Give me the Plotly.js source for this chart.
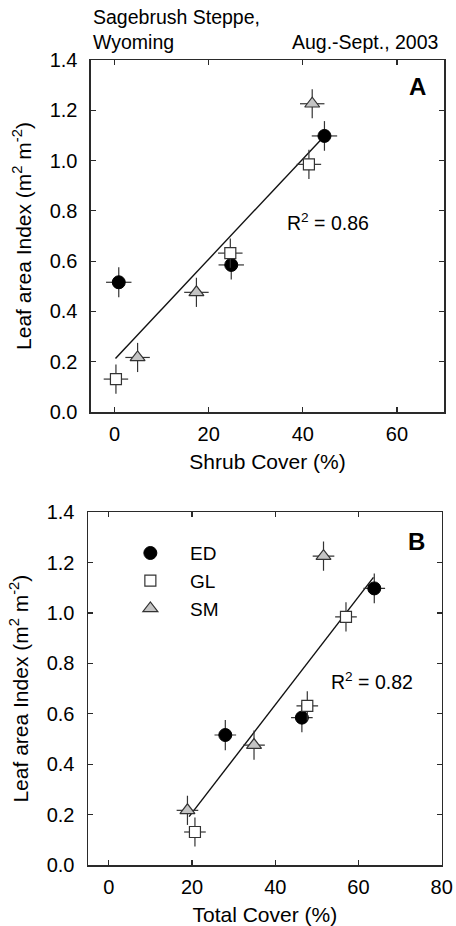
<!DOCTYPE html>
<html>
<head>
<meta charset="utf-8">
<script src="https://cdn.plot.ly/plotly-3.0.1.min.js"></script>
<style>
  html, body { margin: 0; padding: 0; background: #fff; }
  #chart { width: 456px; height: 926px; }
</style>
</head>
<body>
<div id="chart"></div>
<script>
// ---- data ----
const sites = ["ED", "GL", "SM"];
const edShrub = [44.6, 24.8, 0.9];
const edTotal = [63.8, 46.4, 28.0];
const edLAI   = [1.098, 0.585, 0.516];
const glShrub = [41.3, 24.6, 0.3];
const glTotal = [57.0, 47.7, 20.7];
const glLAI   = [0.985, 0.632, 0.131];
const smShrub = [42.0, 17.4, 4.9];
const smTotal = [51.6, 34.9, 18.9];
const smLAI   = [1.226, 0.476, 0.217];
const edLAIerr = [0.059, 0.058, 0.060];
const glLAIerr = [0.058, 0.058, 0.058];
const smLAIerr = [0.058, 0.058, 0.058];
const edShrubErr = [2.7, 2.7, 2.7];
const glShrubErr = [2.6, 2.6, 2.6];
const smShrubErr = [2.6, 2.6, 2.6];
const edTotalErr = [2.6, 2.6, 2.6];
const glTotalErr = [2.6, 2.6, 2.6];
const smTotalErr = [2.6, 2.6, 2.6];
const fitAx = [0.2, 43.8];
const fitAy = [0.213, 1.082];
const fitBx = [19.3, 63.6];
const fitBy = [0.192, 1.142];
const r2A = "R<sup>2</sup> = 0.86";
const r2B = "R<sup>2</sup> = 0.82";

const FONT = "Liberation Sans, Arial, Helvetica, sans-serif";
const AX = "#2a2a2a";
const ERR = "#333333";
const PAD = "\u00A0\u00A0\u00A0\u2009";

const styles = {
  ED: { symbol: "circle", size: 13, color: "#000000", line: { color: "#000000", width: 1 } },
  GL: { symbol: "square", size: 11, color: "#ffffff", line: { color: "#333333", width: 1.2 } },
  SM: { symbol: "triangle-up", size: 13, color: "#c4c4c4", line: { color: "#333333", width: 1.2 } }
};

function pts(name, x, y, ex, ey, xa, ya, showleg) {
  return {
    type: "scatter", mode: "markers", name: PAD + name,
    x: x, y: y, xaxis: xa, yaxis: ya,
    showlegend: showleg, legendgroup: name,
    marker: styles[name],
    error_x: { type: "data", array: ex, visible: true, color: ERR, thickness: 1.2, width: 0 },
    error_y: { type: "data", array: ey, visible: true, color: ERR, thickness: 1.2, width: 0 },
    cliponaxis: false
  };
}
function fit(x, y, xa, ya) {
  return { type: "scatter", mode: "lines", x: x, y: y, xaxis: xa, yaxis: ya,
    showlegend: false, line: { color: "#111", width: 1.4 }, hoverinfo: "skip" };
}

const data = [
  fit(fitAx, fitAy, "x", "y"),
  pts("ED", edShrub, edLAI, edShrubErr, edLAIerr, "x", "y", false),
  pts("GL", glShrub, glLAI, glShrubErr, glLAIerr, "x", "y", false),
  pts("SM", smShrub, smLAI, smShrubErr, smLAIerr, "x", "y", false),
  fit(fitBx, fitBy, "x2", "y2"),
  pts("ED", edTotal, edLAI, edTotalErr, edLAIerr, "x2", "y2", true),
  pts("GL", glTotal, glLAI, glTotalErr, glLAIerr, "x2", "y2", true),
  pts("SM", smTotal, smLAI, smTotalErr, smLAIerr, "x2", "y2", true)
];

function xaxis(range, title, anchor, domain) {
  return {
    range: range, dtick: 20, tick0: 0, domain: domain, anchor: anchor,
    ticks: "inside", ticklen: 5, tickwidth: 1.2, tickcolor: AX,
    showline: true, linecolor: AX, linewidth: 1.5, mirror: "ticks",
    showgrid: false, zeroline: false,
    tickfont: { family: FONT, size: 20, color: "#000" },
    ticklabelstandoff: 3,
    title: { text: title, font: { family: FONT, size: 21, color: "#000" }, standoff: 11 }
  };
}
function yaxis(domain, anchor) {
  return {
    range: [0, 1.4], dtick: 0.2, tick0: 0, tickformat: ".1f", domain: domain, anchor: anchor,
    ticks: "inside", ticklen: 5, tickwidth: 1.2, tickcolor: AX,
    showline: true, linecolor: AX, linewidth: 1.5, mirror: "ticks",
    showgrid: false, zeroline: false,
    tickfont: { family: FONT, size: 20, color: "#000" },
    ticklabelstandoff: 8,
    title: { text: "Leaf area Index (m<sup>2</sup> m<sup>-2</sup>)", font: { family: FONT, size: 21, color: "#000" }, standoff: 12 }
  };
}

const layout = {
  width: 456, height: 926,
  margin: { l: 88, r: 12, t: 60, b: 61 },
  paper_bgcolor: "#fff", plot_bgcolor: "#fff",
  font: { family: FONT, color: "#000" },
  xaxis: xaxis([-5, 70], "Shrub Cover (%)", "y", [0.0084, 1]),
  yaxis: yaxis([0.5627, 1], "x"),
  xaxis2: xaxis([-5, 80], "Total Cover (%)", "y2", [0, 0.9935]),
  yaxis2: yaxis([0, 0.4381], "x2"),
  showlegend: true,
  legend: {
    x: 0.119, y: 0.411, xanchor: "left", yanchor: "top",
    bgcolor: "rgba(0,0,0,0)", borderwidth: 0,
    font: { family: FONT, size: 19, color: "#000" },
    tracegroupgap: 0, itemsizing: "trace"
  },
  annotations: [
    { xref: "paper", yref: "paper", x: 0.0084, y: 1, xanchor: "left", yanchor: "bottom", yshift: 5,
      text: "Sagebrush Steppe,<br>Wyoming", align: "left", showarrow: false,
      font: { family: FONT, size: 19.5, color: "#000" } },
    { xref: "paper", yref: "paper", x: 0.99, y: 1, xanchor: "right", yanchor: "bottom", yshift: 5,
      text: "Aug.-Sept., 2003", showarrow: false,
      font: { family: FONT, size: 19.5, color: "#000" } },
    { xref: "x", yref: "y", x: 36.2, y: 0.757, xanchor: "left", yanchor: "middle",
      text: r2A, showarrow: false, font: { family: FONT, size: 19.5, color: "#000" } },
    { xref: "x2", yref: "y2", x: 52.8, y: 0.732, xanchor: "left", yanchor: "middle",
      text: r2B, showarrow: false, font: { family: FONT, size: 19.5, color: "#000" } },
    { xref: "paper", yref: "y", x: 0.9256, y: 1.293, xanchor: "center", yanchor: "middle",
      text: "<b>A</b>", showarrow: false, font: { family: FONT, size: 24, color: "#000" } },
    { xref: "paper", yref: "y2", x: 0.9228, y: 1.284, xanchor: "center", yanchor: "middle",
      text: "<b>B</b>", showarrow: false, font: { family: FONT, size: 24, color: "#000" } }
  ]
};

Plotly.newPlot("chart", data, layout, { staticPlot: true, displayModeBar: false });
</script>
</body>
</html>
